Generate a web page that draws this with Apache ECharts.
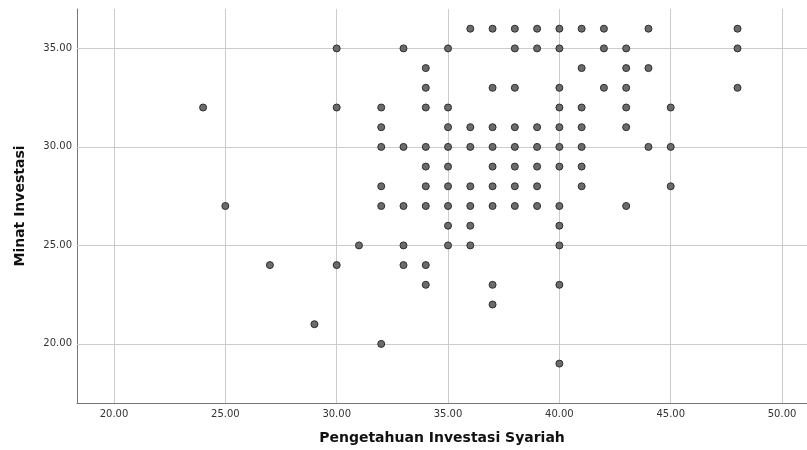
<!DOCTYPE html>
<html>
<head>
<meta charset="utf-8">
<script src="https://cdn.jsdelivr.net/npm/echarts@6/dist/echarts.min.js"></script>
<style>
  html, body { margin: 0; padding: 0; background: #fff; overflow: hidden; }
  #chart { width: 807px; height: 450px; }
</style>
</head>
<body>
<div id="chart"></div>
<script>
// Pengetahuan Investasi Syariah (x) vs Minat Investasi (y)
const pengetahuan = [
  24, 25, 27, 29,
  30, 30, 30,
  31,
  32, 32, 32, 32, 32, 32,
  33, 33, 33, 33, 33,
  34, 34, 34, 34, 34, 34, 34, 34, 34,
  35, 35, 35, 35, 35, 35, 35, 35, 35,
  36, 36, 36, 36, 36, 36, 36,
  37, 37, 37, 37, 37, 37, 37, 37, 37,
  38, 38, 38, 38, 38, 38, 38, 38,
  39, 39, 39, 39, 39, 39, 39,
  40, 40, 40, 40, 40, 40, 40, 40, 40, 40, 40, 40,
  41, 41, 41, 41, 41, 41, 41,
  42, 42, 42,
  43, 43, 43, 43, 43, 43,
  44, 44, 44,
  45, 45, 45,
  48, 48, 48
]
const minat = [
  32, 27, 24, 21,
  35, 32, 24,
  25,
  32, 31, 30, 28, 27, 20,
  35, 30, 27, 25, 24,
  34, 33, 32, 30, 29, 28, 27, 24, 23,
  35, 32, 31, 30, 29, 28, 27, 26, 25,
  36, 31, 30, 28, 27, 26, 25,
  36, 33, 31, 30, 29, 28, 27, 23, 22,
  36, 35, 33, 31, 30, 29, 28, 27,
  36, 35, 31, 30, 29, 28, 27,
  36, 35, 33, 32, 31, 30, 29, 27, 26, 25, 23, 19,
  36, 34, 32, 31, 30, 29, 28,
  36, 35, 33,
  35, 34, 33, 32, 31, 27,
  36, 34, 30,
  32, 30, 28,
  36, 35, 33
]
const xTicks = [20, 25, 30, 35, 40, 45, 50]
const yTicks = [20, 25, 30, 35]

const points = pengetahuan.map((x, i) => [x, minat[i]])

// grid lines drawn as mark lines at the tick values
const gridLines = xTicks.map(v => ({ xAxis: v }))
  .concat(yTicks.map(v => ({ yAxis: v })))

const chart = echarts.init(document.getElementById('chart'))
chart.setOption({
  animation: false,
  backgroundColor: '#fff',
  grid: {
    left: 77,
    right: 0,
    top: 9,
    bottom: 47
  },
  xAxis: {
    type: 'value',
    min: 18.338,
    max: 51.12,
    name: 'Pengetahuan Investasi Syariah',
    nameLocation: 'middle',
    nameGap: 28,
    nameTextStyle: {
      fontFamily: 'DejaVu Sans',
      fontWeight: 'bold',
      fontSize: 14,
      color: '#111'
    },
    axisLine: { lineStyle: { color: '#777', width: 1 } },
    axisTick: { show: false, customValues: xTicks },
    axisLabel: {
      customValues: xTicks,
      formatter: v => v.toFixed(2),
      fontFamily: 'DejaVu Sans',
      fontSize: 10,
      color: '#333',
      margin: 6
    },
    splitLine: { show: false }
  },
  yAxis: {
    type: 'value',
    min: 17,
    max: 37,
    name: 'Minat Investasi',
    nameLocation: 'middle',
    nameGap: 50,
    nameTextStyle: {
      fontFamily: 'DejaVu Sans',
      fontWeight: 'bold',
      fontSize: 14,
      color: '#111'
    },
    axisLine: { show: true, lineStyle: { color: '#777', width: 1 } },
    axisTick: { show: false, customValues: yTicks },
    axisLabel: {
      customValues: yTicks,
      formatter: v => v.toFixed(2),
      fontFamily: 'DejaVu Sans',
      fontSize: 10,
      color: '#333',
      margin: 5
    },
    splitLine: { show: false }
  },
  series: [
    {
      type: 'scatter',
      z: 1,
      data: [],
      markLine: {
        z: 1,
        silent: true,
        symbol: 'none',
        label: { show: false },
        lineStyle: { color: '#cccccc', width: 1, type: 'solid' },
        data: gridLines
      }
    },
    {
      type: 'scatter',
      z: 3,
      symbol: 'circle',
      symbolSize: 7,
      itemStyle: {
        color: '#6b6b6b',
        borderColor: '#2e2e2e',
        borderWidth: 1,
        opacity: 1
      },
      data: points
    }
  ]
})
</script>
</body>
</html>
